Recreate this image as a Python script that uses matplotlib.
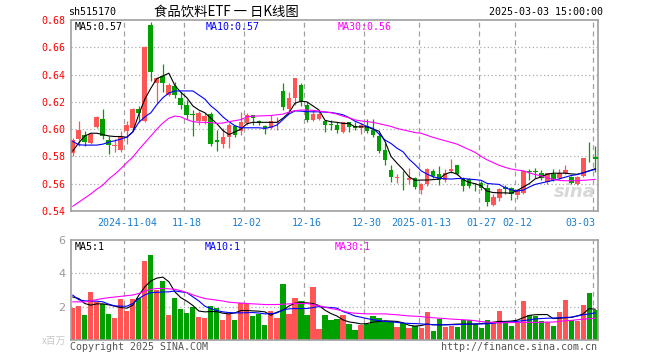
import matplotlib
matplotlib.use("Agg")
import matplotlib.pyplot as plt
import numpy as np

# ---------------- data ----------------
tick_idx = [9, 19, 29, 39, 49, 58, 68, 74, 87]
tick_lab = ["2024-11-04", "11-18", "12-02", "12-16", "12-30",
            "2025-01-13", "01-27", "02-12", "03-03"]

open_ = [.5822, .5927, .5956, .5902, .6017, .6073, .5922, .5878, .5849, .5988,
         .6005, .6151, .6059, .6760, .6335, .6388, .6252, .6313, .6227, .6177,
         .6112, .6059, .6062, .6112, .5920, .5890, .5944, .6022, .5986, .6042,
         .6103, .6059, .6022, .6005, .6047, .6278, .6147, .6230, .6327, .6176,
         .6066, .6078, .6059, .6039, .6030, .5981, .6049, .6022, .6005, .6025,
         .5993, .5951, .5845, .5703, .5644, .5651, .5628, .5642, .5553, .5597,
         .5695, .5670, .5625, .5690, .5735, .5639, .5636, .5585, .5602, .5567,
         .5447, .5496, .5578, .5570, .5514, .5533, .5690, .5690, .5676, .5610,
         .5668, .5644, .5681, .5651, .5595, .5659, .5782, .5798]
high = [.5935, .6060, .5988, .5970, .6100, .6146, .5950, .5930, .5988, .6060,
        .6155, .6170, .6610, .6786, .6383, .6480, .6335, .6347, .6270, .6213,
        .6140, .6133, .6120, .6127, .5993, .6005, .6042, .6030, .6127, .6115,
        .6103, .6066, .6030, .6103, .6090, .6335, .6273, .6376, .6335, .6200,
        .6139, .6139, .6066, .6066, .6054, .6054, .6050, .6054, .6042, .6078,
        .6078, .5969, .5900, .5735, .5670, .5690, .5715, .5650, .5605, .5715,
        .5710, .5730, .5710, .5783, .5740, .5648, .5642, .5605, .5620, .5595,
        .5521, .5570, .5588, .5578, .5563, .5701, .5707, .5712, .5700, .5680,
        .5710, .5710, .5737, .5656, .5656, .5790, .5907, .5876]
low = [.5805, .5880, .5880, .5890, .6005, .5930, .5817, .5830, .5834, .5890,
       .5990, .6054, .6050, .6352, .6193, .6274, .6240, .6225, .6144, .6078,
       .5951, .6030, .6035, .5880, .5839, .5859, .5864, .5940, .5956, .6030,
       .6030, .6030, .5966, .6000, .5993, .6140, .6127, .6176, .6171, .6050,
       .6059, .6066, .5980, .5993, .5969, .5969, .5980, .5993, .5966, .5969,
       .5945, .5827, .5736, .5615, .5603, .5555, .5600, .5560, .5527, .5580,
       .5642, .5594, .5610, .5680, .5662, .5548, .5569, .5546, .5555, .5440,
       .5440, .5472, .5521, .5484, .5490, .5525, .5627, .5639, .5630, .5600,
       .5620, .5635, .5670, .5595, .5590, .5651, .5756, .5688]
close = [.5920, .5993, .5907, .5963, .6090, .5951, .5885, .5883, .5939, .6029,
         .6151, .6117, .6603, .6420, .6376, .6335, .6325, .6247, .6174, .6103,
         .6103, .6115, .6100, .5893, .5908, .5944, .6030, .5956, .6054, .6103,
         .6083, .6047, .6005, .6059, .6054, .6164, .6230, .6376, .6205, .6066,
         .6112, .6108, .6034, .6030, .5993, .6049, .6017, .6012, .6030, .5986,
         .5956, .5839, .5772, .5650, .5648, .5646, .5642, .5575, .5598, .5709,
         .5660, .5627, .5682, .5709, .5672, .5581, .5581, .5580, .5570, .5465,
         .5504, .5563, .5558, .5528, .5553, .5694, .5688, .5688, .5639, .5676,
         .5627, .5676, .5700, .5603, .5651, .5786, .5780, .5781]

ma5 = [.584, .590, .595, .597, .597, .596, .595, .5946, .5946, .594,
       .598, .611, .622, .630, .637, .639, .641, .632, .627, .623,
       .617, .614, .612, .608, .604, .599, .596, .598, .600, .604,
       .605, .605, .605, .605, .605, .608, .612, .619, .6205, .620,
       .617, .614, .6065, .6054, .605, .6042, .6042, .6017, .6017, .6017,
       .600, .5985, .591, .580, .575, .5705, .565, .5625, .5627, .5627,
       .563, .5634, .567, .5685, .567, .563, .561, .560, .5585, .5546,
       .5535, .5533, .5533, .553, .555, .5575, .560, .5635, .565, .567,
       .5677, .5677, .5677, .5672, .5669, .568, .5694, .571]
ma10 = [.591, .5885, .5883, .5883, .5883, .589, .5905, .5915, .5927, .5942,
        .598, .605, .609, .612, .618, .623, .6265, .628, .628, .628,
        .628, .625, .622, .617, .6135, .609, .6055, .6025, .601, .601,
        .601, .601, .6005, .6015, .603, .607, .611, .6134, .6132, .6128,
        .6127, .6127, .6125, .6122, .6115, .6105, .6085, .6058, .604, .602,
        .6005, .5965, .592, .5895, .586, .5834, .578, .574, .5695, .567,
        .5651, .564, .5636, .5634, .5638, .5638, .5634, .563, .5625, .5602,
        .5598, .5595, .557, .5555, .5546, .5553, .5575, .5595, .5605, .5615,
        .5625, .5635, .5648, .566, .5667, .568, .5694, .5705]
ma30 = [.5435, .5465, .5495, .5525, .556, .559, .5635, .567, .571, .5755,
        .5795, .585, .590, .595, .600, .6045, .608, .6096, .609, .607,
        .6055, .605, .605, .6048, .6042, .6045, .6055, .6062, .607, .609,
        .6095, .6097, .6098, .610, .6105, .611, .6125, .6135, .614, .614,
        .6138, .6132, .6127, .612, .611, .6095, .6083, .6068, .606, .6055,
        .605, .604, .603, .602, .6005, .5995, .5985, .5975, .597, .5955,
        .594, .5927, .5915, .5903, .589, .587, .585, .583, .580, .5775,
        .5755, .5735, .572, .5708, .570, .5695, .568, .5668, .5658, .5642,
        .5632, .5624, .5622, .5622, .5622, .5625, .5628, .5632]

vol = [1.96, 2.08, 1.52, 2.90, 2.32, 2.18, 1.58, 1.34, 2.48, 1.76,
       2.48, 2.56, 4.76, 5.12, 3.00, 3.56, 1.52, 2.56, 1.88, 1.66,
       2.02, 1.40, 1.34, 2.06, 1.96, 1.22, 1.56, 1.22, 2.24, 2.24,
       1.46, 1.58, 0.94, 1.76, 1.34, 3.38, 1.58, 2.56, 2.36, 1.54,
       3.20, 0.68, 1.52, 1.23, 1.29, 1.49, 0.99, 0.63, 0.93, 0.97,
       1.47, 1.35, 1.17, 1.13, 0.81, 1.01, 0.75, 0.87, 0.75, 1.72,
       0.57, 1.29, 0.81, 0.87, 0.81, 1.19, 1.19, 0.97, 0.75, 1.23,
       1.05, 1.78, 1.05, 0.87, 1.05, 2.38, 1.54, 1.47, 1.17, 1.09,
       0.87, 1.72, 2.44, 1.23, 1.15, 2.14, 2.81, 1.84]
vma5 = [2.59, 2.50, 2.20, 2.10, 2.18, 2.18, 2.12, 2.04, 1.96, 1.92,
        2.10, 2.70, 3.20, 3.55, 3.72, 3.78, 3.50, 2.90, 2.55, 2.34,
        2.08, 1.75, 1.70, 1.72, 1.71, 1.62, 1.58, 1.64, 1.78, 1.78,
        1.76, 1.74, 1.70, 1.50, 1.68, 1.80, 2.05, 2.22, 2.24, 2.24,
        2.20, 2.08, 1.80, 1.60, 1.45, 1.22, 1.10, 1.05, 0.98, 1.00,
        1.09, 1.12, 1.17, 1.15, 1.13, 1.05, 0.90, 0.85, 0.88, 0.97,
        0.93, 0.93, 0.93, 0.95, 0.97, 0.97, 0.97, 0.97, 1.00, 1.03,
        1.08, 1.13, 1.13, 1.15, 1.20, 1.35, 1.49, 1.53, 1.54, 1.54,
        1.30, 1.32, 1.35, 1.37, 1.45, 1.58, 1.90, 1.86]
vma10 = [2.70, 2.42, 2.36, 2.34, 2.34, 2.30, 2.16, 2.06, 2.04, 2.04,
         2.20, 2.50, 2.72, 2.85, 2.87, 2.89, 2.90, 2.95, 2.90, 2.85,
         2.60, 2.35, 2.04, 1.90, 1.78, 1.70, 1.66, 1.64, 1.64, 1.65,
         1.66, 1.63, 1.58, 1.60, 1.64, 1.82, 1.88, 1.90, 1.90, 1.90,
         1.96, 2.02, 1.98, 1.96, 1.92, 1.72, 1.60, 1.45, 1.38, 1.30,
         1.23, 1.18, 1.13, 1.10, 1.07, 1.03, 1.01, 1.00, 0.98, 0.96,
         0.93, 0.93, 0.93, 0.93, 0.94, 0.95, 0.97, 0.98, 0.98, 0.99,
         1.02, 1.07, 1.08, 1.10, 1.13, 1.18, 1.22, 1.28, 1.30, 1.32,
         1.33, 1.35, 1.37, 1.38, 1.46, 1.52, 1.58, 1.64]
vma30 = [2.30, 2.30, 2.30, 2.35, 2.44, 2.50, 2.55, 2.59, 2.63, 2.67,
         2.71, 2.80, 2.95, 3.05, 3.10, 3.10, 3.08, 3.05, 2.97, 2.85,
         2.72, 2.60, 2.50, 2.45, 2.40, 2.35, 2.28, 2.25, 2.23, 2.20,
         2.18, 2.16, 2.14, 2.14, 2.14, 2.16, 2.18, 2.20, 2.20, 2.20,
         2.14, 2.06, 1.98, 1.90, 1.84, 1.75, 1.66, 1.62, 1.60, 1.58,
         1.58, 1.58, 1.58, 1.55, 1.53, 1.49, 1.46, 1.44, 1.42, 1.38,
         1.35, 1.32, 1.30, 1.27, 1.25, 1.23, 1.21, 1.17, 1.12, 1.09,
         1.07, 1.05, 1.05, 1.06, 1.07, 1.07, 1.07, 1.07, 1.08, 1.09,
         1.09, 1.13, 1.17, 1.19, 1.23, 1.26, 1.29, 1.33]

# ---------------- style ----------------
W, H = 660, 360
RED, GREEN = "#ff5555", "#00a000"
FRAME = "#a0a0a0"
MONO = "DejaVu Sans Mono"
CJK = ["Noto Sans CJK SC", "DejaVu Sans"]
FS = 7.2

x = np.arange(len(close))
o, h, l, c = map(np.array, (open_, high, low, close))
up = c >= o
cols = np.where(up, RED, GREEN)


def px(xp, yp):
    return xp / W, 1 - yp / H


fig = plt.figure(figsize=(W / 100, H / 100), dpi=100)
fig.patch.set_facecolor("white")

L, R = 70.7, 598
ax = fig.add_axes([L / W, 1 - 211 / H, (R - L) / W, 191 / H])
axv = fig.add_axes([L / W, 1 - 340.3 / H, (R - L) / W, 100.3 / H])

XL = (-0.35, 87.47)

for a in (ax, axv):
    a.set_xlim(*XL)
    for s in a.spines.values():
        s.set_color(FRAME)
        s.set_linewidth(1.2)
    for t in tick_idx:
        a.axvline(t - 0.42, color=FRAME, ls=(0, (4, 3)), lw=0.9, zorder=0)
    a.tick_params(length=0)

# ---- candles ----
ax.vlines(x, l, h, colors=cols, lw=0.9, zorder=2)
body = np.maximum(np.abs(c - o), 0.0003)
ax.bar(x, body, bottom=np.minimum(o, c), width=0.8, color=cols, lw=0, zorder=3)

ax.plot(x, ma5, color="black", lw=0.8, zorder=4)
ax.plot(x, ma10, color="#0000ff", lw=0.8, zorder=4)
ax.plot(x, ma30, color="#ff00ff", lw=0.8, zorder=4)

ax.set_ylim(0.54, 0.68)
yt = np.arange(0.54, 0.681, 0.02)
ax.set_yticks(yt)
ax.set_yticklabels([f"{v:.2f}" for v in yt], color="red", family=MONO, fontsize=FS)
ax.tick_params(axis="y", pad=4)
for v in yt[1:-1]:
    ax.axhline(v, color="#aaaaaa", ls=(0, (1, 2)), lw=0.9, zorder=0)

ax.set_xticks(tick_idx)
ax.set_xticklabels(tick_lab, color="#1a7fd0", family=MONO, fontsize=FS)
ax.tick_params(axis="x", pad=5)
lab = ax.get_xticklabels()[-1]
lab.set_horizontalalignment("right")
lab.set_x(XL[1])

# sina watermark
ax.text(0.995, 0.05, "sina", transform=ax.transAxes, ha="right", va="bottom",
        fontsize=13, fontstyle="italic", fontweight="bold", color="#d8d8d8", zorder=1)

# ---- volume ----
axv.bar(x, vol, width=0.85, color=cols, lw=0, zorder=2)
axv.plot(x, vma5, color="black", lw=0.8, zorder=4)
axv.plot(x, vma10, color="#0000ff", lw=0.8, zorder=4)
axv.plot(x, vma30, color="#ff00ff", lw=0.8, zorder=4)
axv.set_ylim(0, 6)
axv.set_yticks([2, 4, 6])
axv.set_yticklabels(["2", "4", "6"], color="#999999", fontsize=8)
axv.tick_params(axis="y", pad=4)
axv.set_xticks([])
for v in (2, 4):
    axv.axhline(v, color="#aaaaaa", ls=(0, (1, 2)), lw=0.9, zorder=0)

# ---- texts ----
fig.text(*px(68, 12), "sh515170", family=MONO, fontsize=FS, va="center")
fig.text(*px(226, 12), "食品饮料ETF 一 日K线图", family=CJK,
         fontsize=9.6, va="center", ha="center")
fig.text(*px(603, 12), "2025-03-03 15:00:00", family=MONO, fontsize=FS, va="center", ha="right")

fig.text(*px(75, 27), "MA5:0.57", family=MONO, fontsize=FS, va="center", color="black")
fig.text(*px(206, 27), "MA10:0.57", family=MONO, fontsize=FS, va="center", color="#0000ff")
fig.text(*px(338, 27), "MA30:0.56", family=MONO, fontsize=FS, va="center", color="#ff00ff")

fig.text(*px(75, 247), "MA5:1", family=MONO, fontsize=FS, va="center", color="black")
fig.text(*px(205, 247), "MA10:1", family=MONO, fontsize=FS, va="center", color="#0000ff")
fig.text(*px(335, 247), "MA30:1", family=MONO, fontsize=FS, va="center", color="#ff00ff")

fig.text(*px(66, 341), "x百万", family=CJK, fontsize=7,
         va="center", ha="right", color="#c8c8c8")
fig.text(*px(70, 347), "Copyright 2025 SINA.COM", family=MONO, fontsize=FS,
         va="center", color="#555555")
fig.text(*px(597, 347), "http://finance.sina.com.cn", family=MONO, fontsize=FS,
         va="center", ha="right", color="#555555")

fig.savefig("out.png", dpi=100)
